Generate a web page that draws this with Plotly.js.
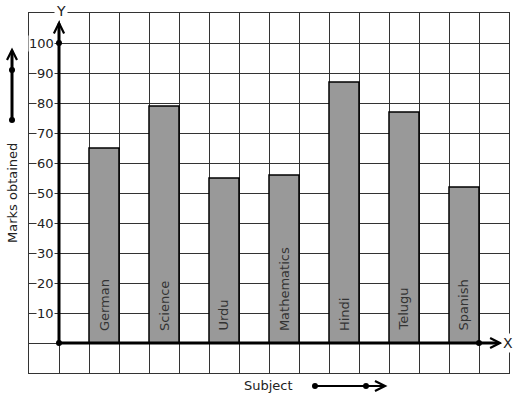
<!DOCTYPE html>
<html>
<head>
<meta charset="utf-8">
<script src="https://cdn.plot.ly/plotly-3.0.1.min.js"></script>
<style>html,body{margin:0;padding:0;background:#fff;}#chart{width:517px;height:399px;}</style>
</head>
<body>
<div id="chart"></div>
<script>
// Data
const subjects = ["German", "Science", "Urdu", "Mathematics", "Hindi", "Telugu", "Spanish"];
const positions = [1.5, 3.5, 5.5, 7.5, 9.5, 11.5, 13.5];
const marks = [65, 79, 55, 56, 87, 77, 52];
const yTickValues = [10, 20, 30, 40, 50, 60, 70, 80, 90, 100];
const yTickLabels = ["10", "20", "30", "40", "50", "60", "70", "80", "90", "100"];

const FONT = "DejaVu Sans, sans-serif";
const ink = "#222";

const trace = {
  type: "bar",
  x: positions,
  y: marks,
  width: 1,
  marker: {color: "#999999", line: {color: "#000", width: 1.5}},
  hoverinfo: "none"
};

const annotations = [];
// Y tick labels with white background over grid lines
yTickValues.forEach((v, i) => {
  annotations.push({
    x: -0.13, y: v, xref: "x", yref: "y", text: yTickLabels[i],
    showarrow: false, xanchor: "right", yanchor: "middle",
    bgcolor: "#fff", borderpad: 0,
    font: {family: FONT, size: 13, color: ink}
  });
});
// Bar labels
subjects.forEach((s, i) => {
  annotations.push({
    x: positions[i], y: 3.3, xref: "x", yref: "y", text: s,
    showarrow: false, textangle: -90, xanchor: "center", yanchor: "bottom",
    font: {family: FONT, size: 13, color: "#333"}
  });
});
// Axis letters
annotations.push({x: 0.05, y: 1.005, xref: "x", yref: "paper", text: "Y", showarrow: false,
  xanchor: "center", yanchor: "middle", bgcolor: "#fff", borderpad: 1,
  font: {family: FONT, size: 14, color: ink}});
annotations.push({x: 14.97, y: 0, xref: "x", yref: "y", text: "X", showarrow: false,
  xanchor: "center", yanchor: "middle", bgcolor: "#fff", borderpad: 1,
  font: {family: FONT, size: 14, color: ink}});
// Axis titles
annotations.push({x: 0.498, y: -0.036, xref: "paper", yref: "paper", text: "Subject", showarrow: false,
  xanchor: "center", yanchor: "middle", font: {family: FONT, size: 13, color: ink}});
annotations.push({x: -0.0354, y: 0.5, xref: "paper", yref: "paper", text: "Marks obtained", showarrow: false,
  textangle: -90, xanchor: "center", yanchor: "middle", font: {family: FONT, size: 13, color: ink}});

const L = {color: "#000", width: 3};
const A = {color: "#000", width: 2.2};
const shapes = [
  // y axis
  {type: "line", xref: "x", yref: "y", x0: 0, y0: 0, x1: 0, y1: 106.5, line: L},
  {type: "path", xref: "x", yref: "y", path: "M -0.17 103.2 L 0 106.7 L 0.17 103.2", line: A},
  // x axis
  {type: "line", xref: "x", yref: "y", x0: 0, y0: 0, x1: 14.65, y1: 0, line: L},
  {type: "path", xref: "x", yref: "y", path: "M 14.37 1.7 L 14.7 0 L 14.37 -1.7", line: A},
  // dots
  {type: "circle", xref: "x", yref: "y", x0: -0.1, x1: 0.1, y0: 99, y1: 101, fillcolor: "#000", line: {width: 0}},
  {type: "circle", xref: "x", yref: "y", x0: -0.1, x1: 0.1, y0: -1, y1: 1, fillcolor: "#000", line: {width: 0}},
  {type: "circle", xref: "x", yref: "y", x0: 13.9, x1: 14.1, y0: -1, y1: 1, fillcolor: "#000", line: {width: 0}},
  // left arrow (outside)
  {type: "line", xref: "paper", yref: "paper", x0: -0.0354, y0: 0.7028, x1: -0.0354, y1: 0.895, line: L},
  {type: "path", xref: "paper", yref: "paper", path: "M -0.0458 0.8694 L -0.0354 0.8972 L -0.025 0.8694", line: A},
  {type: "circle", xref: "paper", yref: "paper", x0: -0.0417, x1: -0.0291, y0: 0.6945, y1: 0.7111, fillcolor: "#000", line: {width: 0}},
  {type: "circle", xref: "paper", yref: "paper", x0: -0.0417, x1: -0.0291, y0: 0.8334, y1: 0.85, fillcolor: "#000", line: {width: 0}},
  // bottom arrow (outside)
  {type: "line", xref: "paper", yref: "paper", x0: 0.5958, y0: -0.0361, x1: 0.74, y1: -0.0361, line: A},
  {type: "path", xref: "paper", yref: "paper", path: "M 0.7208 -0.0222 L 0.7417 -0.0361 L 0.7208 -0.05", line: A},
  {type: "circle", xref: "paper", yref: "paper", x0: 0.5896, x1: 0.602, y0: -0.0444, y1: -0.0278, fillcolor: "#000", line: {width: 0}},
  {type: "circle", xref: "paper", yref: "paper", x0: 0.6959, x1: 0.7083, y0: -0.0444, y1: -0.0278, fillcolor: "#000", line: {width: 0}}
];

const layout = {
  width: 517, height: 399,
  margin: {l: 29, r: 8, t: 13, b: 26, pad: 0},
  paper_bgcolor: "#fff", plot_bgcolor: "#fff",
  showlegend: false,
  xaxis: {range: [-1, 15], dtick: 1, tick0: 0, showgrid: true, gridcolor: "#333", gridwidth: 1,
    zeroline: false, showticklabels: false, ticks: "", showline: true, mirror: true, linecolor: "#333", linewidth: 1, fixedrange: true},
  yaxis: {range: [-10, 110], dtick: 10, tick0: 0, showgrid: true, gridcolor: "#333", gridwidth: 1,
    zeroline: false, showticklabels: false, ticks: "", showline: true, mirror: true, linecolor: "#333", linewidth: 1, fixedrange: true},
  annotations: annotations,
  shapes: shapes,
  font: {family: FONT, color: ink}
};

Plotly.newPlot("chart", [trace], layout, {displayModeBar: false, staticPlot: true});
</script>
</body>
</html>
